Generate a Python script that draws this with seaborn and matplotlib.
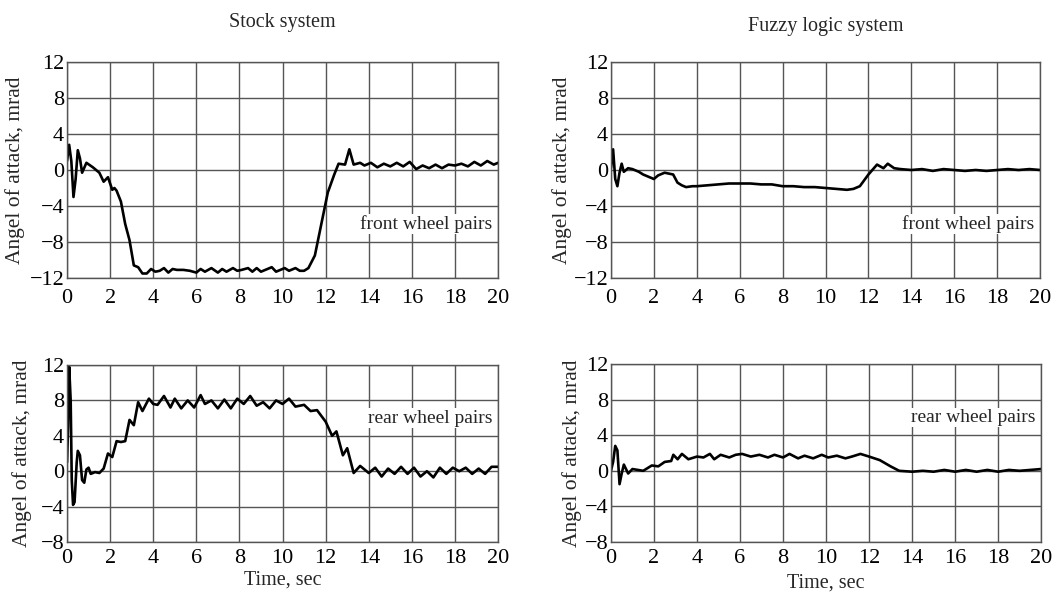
import numpy as np
import pandas as pd
import matplotlib
matplotlib.use("Agg")
import matplotlib.pyplot as plt
import seaborn as sns

# ---------------- data ----------------
t_stock_front = [0.0, 0.1, 0.2, 0.3, 0.4, 0.5, 0.6, 0.7, 0.9, 1.2, 1.5, 1.7, 1.9, 2.1, 2.2, 2.3,
                 2.5, 2.7, 2.9, 3.1, 3.3, 3.5, 3.7, 3.9, 4.1, 4.3, 4.5, 4.7, 4.9, 5.1, 5.4, 5.7,
                 6.0, 6.2, 6.4, 6.7, 7.0, 7.2, 7.4, 7.7, 7.9, 8.1, 8.4, 8.6, 8.8, 9.0, 9.2, 9.5,
                 9.7, 9.9, 10.1, 10.3, 10.6, 10.8, 11.0, 11.2, 11.5, 11.8, 12.1, 12.4, 12.6,
                 12.9, 13.1, 13.3, 13.6, 13.8, 14.1, 14.4, 14.7, 15.0, 15.3, 15.6, 15.9, 16.2,
                 16.5, 16.8, 17.1, 17.4, 17.7, 18.0, 18.3, 18.6, 18.9, 19.2, 19.5, 19.8, 20.0]
v_stock_front = [1.0, 2.8, 1.0, -3.0, -1.0, 2.2, 1.3, -0.3, 0.8, 0.3, -0.3, -1.3, -0.8, -2.2, -2.0, -2.3,
                 -3.5, -6.0, -7.8, -10.6, -10.8, -11.5, -11.5, -11.0, -11.3, -11.2, -10.9, -11.4, -11.0, -11.1, -11.1, -11.2,
                 -11.4, -11.0, -11.3, -10.9, -11.4, -11.0, -11.3, -10.9, -11.2, -11.1, -10.9, -11.3, -10.9, -11.3, -11.1, -10.8,
                 -11.3, -11.1, -10.9, -11.2, -10.9, -11.2, -11.2, -10.9, -9.5, -6.0, -2.5, -0.5, 0.7,
                 0.6, 2.3, 0.6, 0.8, 0.5, 0.8, 0.3, 0.7, 0.4, 0.8, 0.4, 0.9, 0.1, 0.5, 0.2, 0.6,
                 0.2, 0.6, 0.5, 0.7, 0.4, 0.9, 0.5, 1.0, 0.6, 0.8]

t_fuzzy_front = [0.0, 0.1, 0.2, 0.3, 0.4, 0.5, 0.6, 0.8, 1.0, 1.3, 1.5, 1.8, 2.0, 2.2, 2.5, 2.9,
                 3.1, 3.3, 3.5, 3.8, 4.0, 4.5, 5.0, 5.5, 6.0, 6.5, 7.0, 7.5, 8.0, 8.5, 9.0, 9.5,
                 10.0, 10.5, 11.0, 11.3, 11.6, 12.0, 12.4, 12.7, 12.9, 13.2, 13.5, 14.0, 14.5,
                 15.0, 15.5, 16.0, 16.5, 17.0, 17.5, 18.0, 18.5, 19.0, 19.5, 20.0]
v_fuzzy_front = [0.2, 2.3, -1.0, -1.8, -0.3, 0.7, -0.2, 0.2, 0.1, -0.2, -0.5, -0.8, -1.0, -0.6, -0.3, -0.5,
                 -1.4, -1.7, -1.9, -1.8, -1.8, -1.7, -1.6, -1.5, -1.5, -1.5, -1.6, -1.6, -1.8, -1.8, -1.9, -1.9,
                 -2.0, -2.1, -2.2, -2.1, -1.8, -0.5, 0.6, 0.2, 0.7, 0.2, 0.1, 0.0, 0.1,
                 -0.1, 0.1, 0.0, -0.1, 0.0, -0.1, 0.0, 0.1, 0.0, 0.1, 0.0]

t_stock_rear = [0.0, 0.05, 0.1, 0.17, 0.22, 0.28, 0.35, 0.45, 0.5, 0.6, 0.7, 0.8, 0.9, 1.0, 1.1, 1.3,
                1.5, 1.7, 1.9, 2.1, 2.3, 2.5, 2.7, 2.9, 3.1, 3.3, 3.5, 3.8, 4.0, 4.2, 4.5, 4.8,
                5.0, 5.3, 5.6, 5.9, 6.2, 6.4, 6.7, 7.0, 7.3, 7.6, 7.9, 8.2, 8.5, 8.8, 9.1, 9.4,
                9.7, 10.0, 10.3, 10.6, 11.0, 11.3, 11.6, 12.0, 12.3, 12.5, 12.8, 13.0, 13.3,
                13.6, 14.0, 14.3, 14.6, 14.9, 15.2, 15.5, 15.8, 16.1, 16.4, 16.7, 17.0, 17.3,
                17.6, 17.9, 18.2, 18.5, 18.8, 19.1, 19.4, 19.7, 20.0]
v_stock_rear = [1.0, 5.0, 11.8, 8.0, -1.0, -3.8, -3.5, 1.0, 2.3, 1.8, -1.0, -1.3, 0.2, 0.4, -0.3, -0.1,
                -0.2, 0.3, 2.0, 1.6, 3.4, 3.3, 3.4, 5.8, 5.2, 7.8, 6.8, 8.2, 7.6, 7.5, 8.5, 7.2,
                8.2, 7.1, 8.0, 7.2, 8.6, 7.6, 8.0, 7.1, 8.1, 7.1, 8.2, 7.6, 8.5, 7.4, 7.8, 7.1,
                8.0, 7.6, 8.2, 7.3, 7.5, 6.8, 6.9, 5.6, 4.0, 4.5, 1.8, 2.6, -0.2,
                0.6, -0.2, 0.4, -0.6, 0.3, -0.3, 0.5, -0.3, 0.4, -0.6, 0.0, -0.7, 0.4,
                -0.3, 0.4, 0.0, 0.4, -0.3, 0.3, -0.3, 0.5, 0.5]

t_fuzzy_rear = [0.0, 0.1, 0.2, 0.3, 0.4, 0.5, 0.6, 0.8, 1.0, 1.5, 1.9, 2.2, 2.5, 2.8, 2.9, 3.1,
                3.3, 3.6, 4.0, 4.3, 4.6, 4.8, 5.1, 5.5, 5.8, 6.1, 6.5, 6.9, 7.3, 7.6, 8.0, 8.3,
                8.7, 9.0, 9.4, 9.8, 10.1, 10.5, 10.9, 11.2, 11.6, 12.0, 12.5, 13.0, 13.4,
                14.0, 14.5, 15.0, 15.5, 16.0, 16.5, 17.0, 17.5, 18.0, 18.5, 19.0, 19.5, 20.0]
v_fuzzy_rear = [0.0, 1.0, 2.8, 2.3, -1.5, -0.3, 0.7, -0.3, 0.2, 0.0, 0.6, 0.5, 1.0, 1.1, 1.8, 1.3,
                1.9, 1.3, 1.6, 1.5, 1.9, 1.3, 1.8, 1.5, 1.8, 1.9, 1.6, 1.8, 1.5, 1.8, 1.5, 1.9,
                1.4, 1.7, 1.4, 1.8, 1.5, 1.7, 1.4, 1.6, 1.9, 1.6, 1.2, 0.5, 0.0,
                -0.1, 0.0, -0.1, 0.1, -0.1, 0.1, -0.1, 0.1, -0.1, 0.1, 0.0, 0.1, 0.2]

titles = ["Stock system", "Fuzzy logic system"]
ylabel = "Angel of attack, mrad"
xlabel = "Time, sec"
front_label = "front wheel pairs"
rear_label = "rear wheel pairs"
x_ticks = list(range(0, 21, 2))
y_ticks_front = [-12, -8, -4, 0, 4, 8, 12]
y_ticks_rear = [-8, -4, 0, 4, 8, 12]

# ---------------- styling ----------------
sns.set_theme(style="white")
plt.rcParams["font.family"] = ["Liberation Serif", "DejaVu Serif"]

fig = plt.figure(figsize=(10.57, 5.94), dpi=100)

grid_c = "#555555"
panels = [
    dict(rect=[0.0634, 0.532, 0.4078, 0.3636], t=t_stock_front, v=v_stock_front,
         yt=y_ticks_front, lab=front_label, ly=-6.0, title=titles[0], tpad=25,
         xl=False, xpad=8, ylx=-0.097, xlp=0),
    dict(rect=[0.578, 0.532, 0.406, 0.3636], t=t_fuzzy_front, v=v_fuzzy_front,
         yt=y_ticks_front, lab=front_label, ly=-6.0, title=titles[1], tpad=22,
         xl=False, xpad=8, ylx=-0.091, xlp=0),
    dict(rect=[0.0634, 0.0875, 0.4078, 0.298], t=t_stock_rear, v=v_stock_rear,
         yt=y_ticks_rear, lab=rear_label, ly=6.0, title=None, tpad=0,
         xl=True, xpad=5, ylx=-0.081, xlp=2),
    dict(rect=[0.578, 0.0875, 0.407, 0.2997], t=t_fuzzy_rear, v=v_fuzzy_rear,
         yt=y_ticks_rear, lab=rear_label, ly=6.0, title=None, tpad=0,
         xl=True, xpad=5, ylx=-0.068, xlp=4),
]

for p in panels:
    ax = fig.add_axes(p["rect"])
    df = pd.DataFrame({"t": p["t"], "v": p["v"]})
    sns.lineplot(data=df, x="t", y="v", ax=ax, color="black", linewidth=1.9,
                 estimator=None, sort=False)
    ax.set_xlim(0, 20)
    ax.set_ylim(p["yt"][0], p["yt"][-1])
    ax.set_xticks(x_ticks)
    ax.set_yticks(p["yt"])
    ax.grid(True, color=grid_c, linewidth=1.0)
    for s in ax.spines.values():
        s.set_color(grid_c)
        s.set_linewidth(1.0)
    ax.tick_params(axis="both", labelsize=16, length=0, colors="black")
    ax.tick_params(axis="y", pad=2)
    ax.tick_params(axis="x", pad=p["xpad"])
    ax.set_ylabel(ylabel, fontsize=15.5)
    ax.yaxis.set_label_coords(p["ylx"], 0.5)
    if p["xl"]:
        ax.set_xlabel(xlabel, fontsize=14.5, labelpad=p["xlp"])
    else:
        ax.set_xlabel("")
    ax.text(19.75, p["ly"], p["lab"], ha="right", va="center", fontsize=14,
            bbox=dict(facecolor="white", edgecolor="none", pad=1.0))
    if p["title"]:
        ax.set_title(p["title"], fontsize=14.5, pad=p["tpad"])

fig.savefig("out.png", dpi=100, facecolor="white")
